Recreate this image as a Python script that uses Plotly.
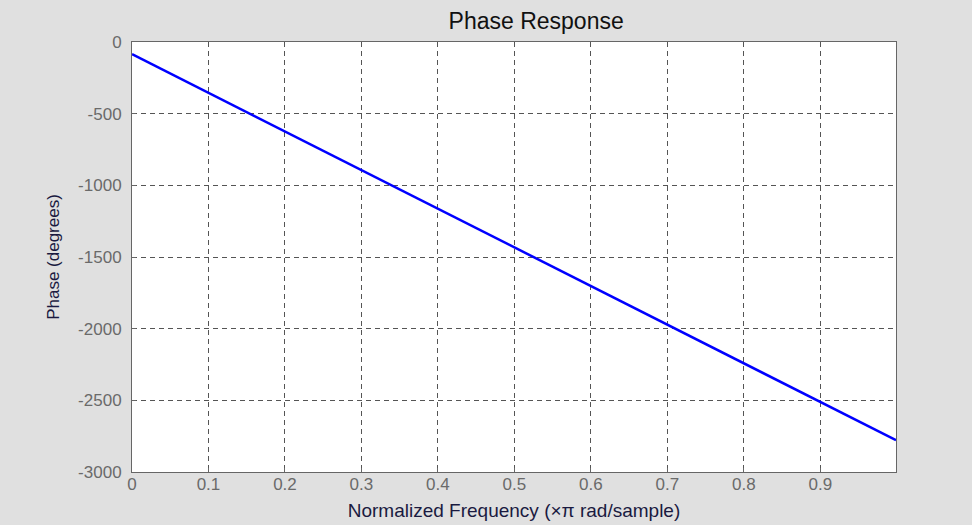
import plotly.graph_objects as go

freq = [0.0, 0.1, 0.2, 0.3, 0.4, 0.5, 0.6, 0.7, 0.8, 0.9, 0.999]
phase = [-85, -355, -624, -894, -1163, -1433, -1702, -1972, -2241, -2511, -2778]
x_ticks = [0, 0.1, 0.2, 0.3, 0.4, 0.5, 0.6, 0.7, 0.8, 0.9]
y_ticks = [0, -500, -1000, -1500, -2000, -2500, -3000]

FONT = "Liberation Sans, Arial"

fig = go.Figure()
fig.add_trace(go.Scatter(x=freq, y=phase, mode="lines",
                         line=dict(color="#0000ff", width=2.5), showlegend=False))

axis_common = dict(showline=True, linecolor="#666666", linewidth=1, mirror=True,
                   showgrid=True, gridcolor="#555555", griddash="5px,4px", gridwidth=1,
                   zeroline=False, ticks="inside", ticklen=4, tickcolor="#666666",
                   automargin=False,
                   tickfont=dict(family=FONT, size=17, color="#6a6a6a"))

fig.update_layout(
    width=972, height=525,
    paper_bgcolor="#e0e0e0", plot_bgcolor="#ffffff",
    margin=dict(l=132, r=76, t=42, b=53),
    title=dict(text="Phase Response", x=0.529, xanchor="center", y=1 - 21 / 525, yanchor="middle",
               font=dict(family=FONT, size=23, color="#111111"),
               xref="paper", automargin=False),
    xaxis=dict(range=[0, 0.999], tickvals=x_ticks,
               ticktext=[str(v) for v in x_ticks],
               ticklabelstandoff=-3,
               title=dict(text="Normalized Frequency (×π rad/sample)", standoff=10,
                          font=dict(family=FONT, size=19, color="#1a1a40")),
               **axis_common),
    yaxis=dict(range=[-3000, 0], tickvals=y_ticks,
               ticktext=[str(v) for v in y_ticks],
               ticklabelstandoff=6,
               title=dict(text="Phase (degrees)", standoff=14,
                          font=dict(family=FONT, size=17, color="#1a1a40")),
               **axis_common),
)
fig.write_html("out.html")
